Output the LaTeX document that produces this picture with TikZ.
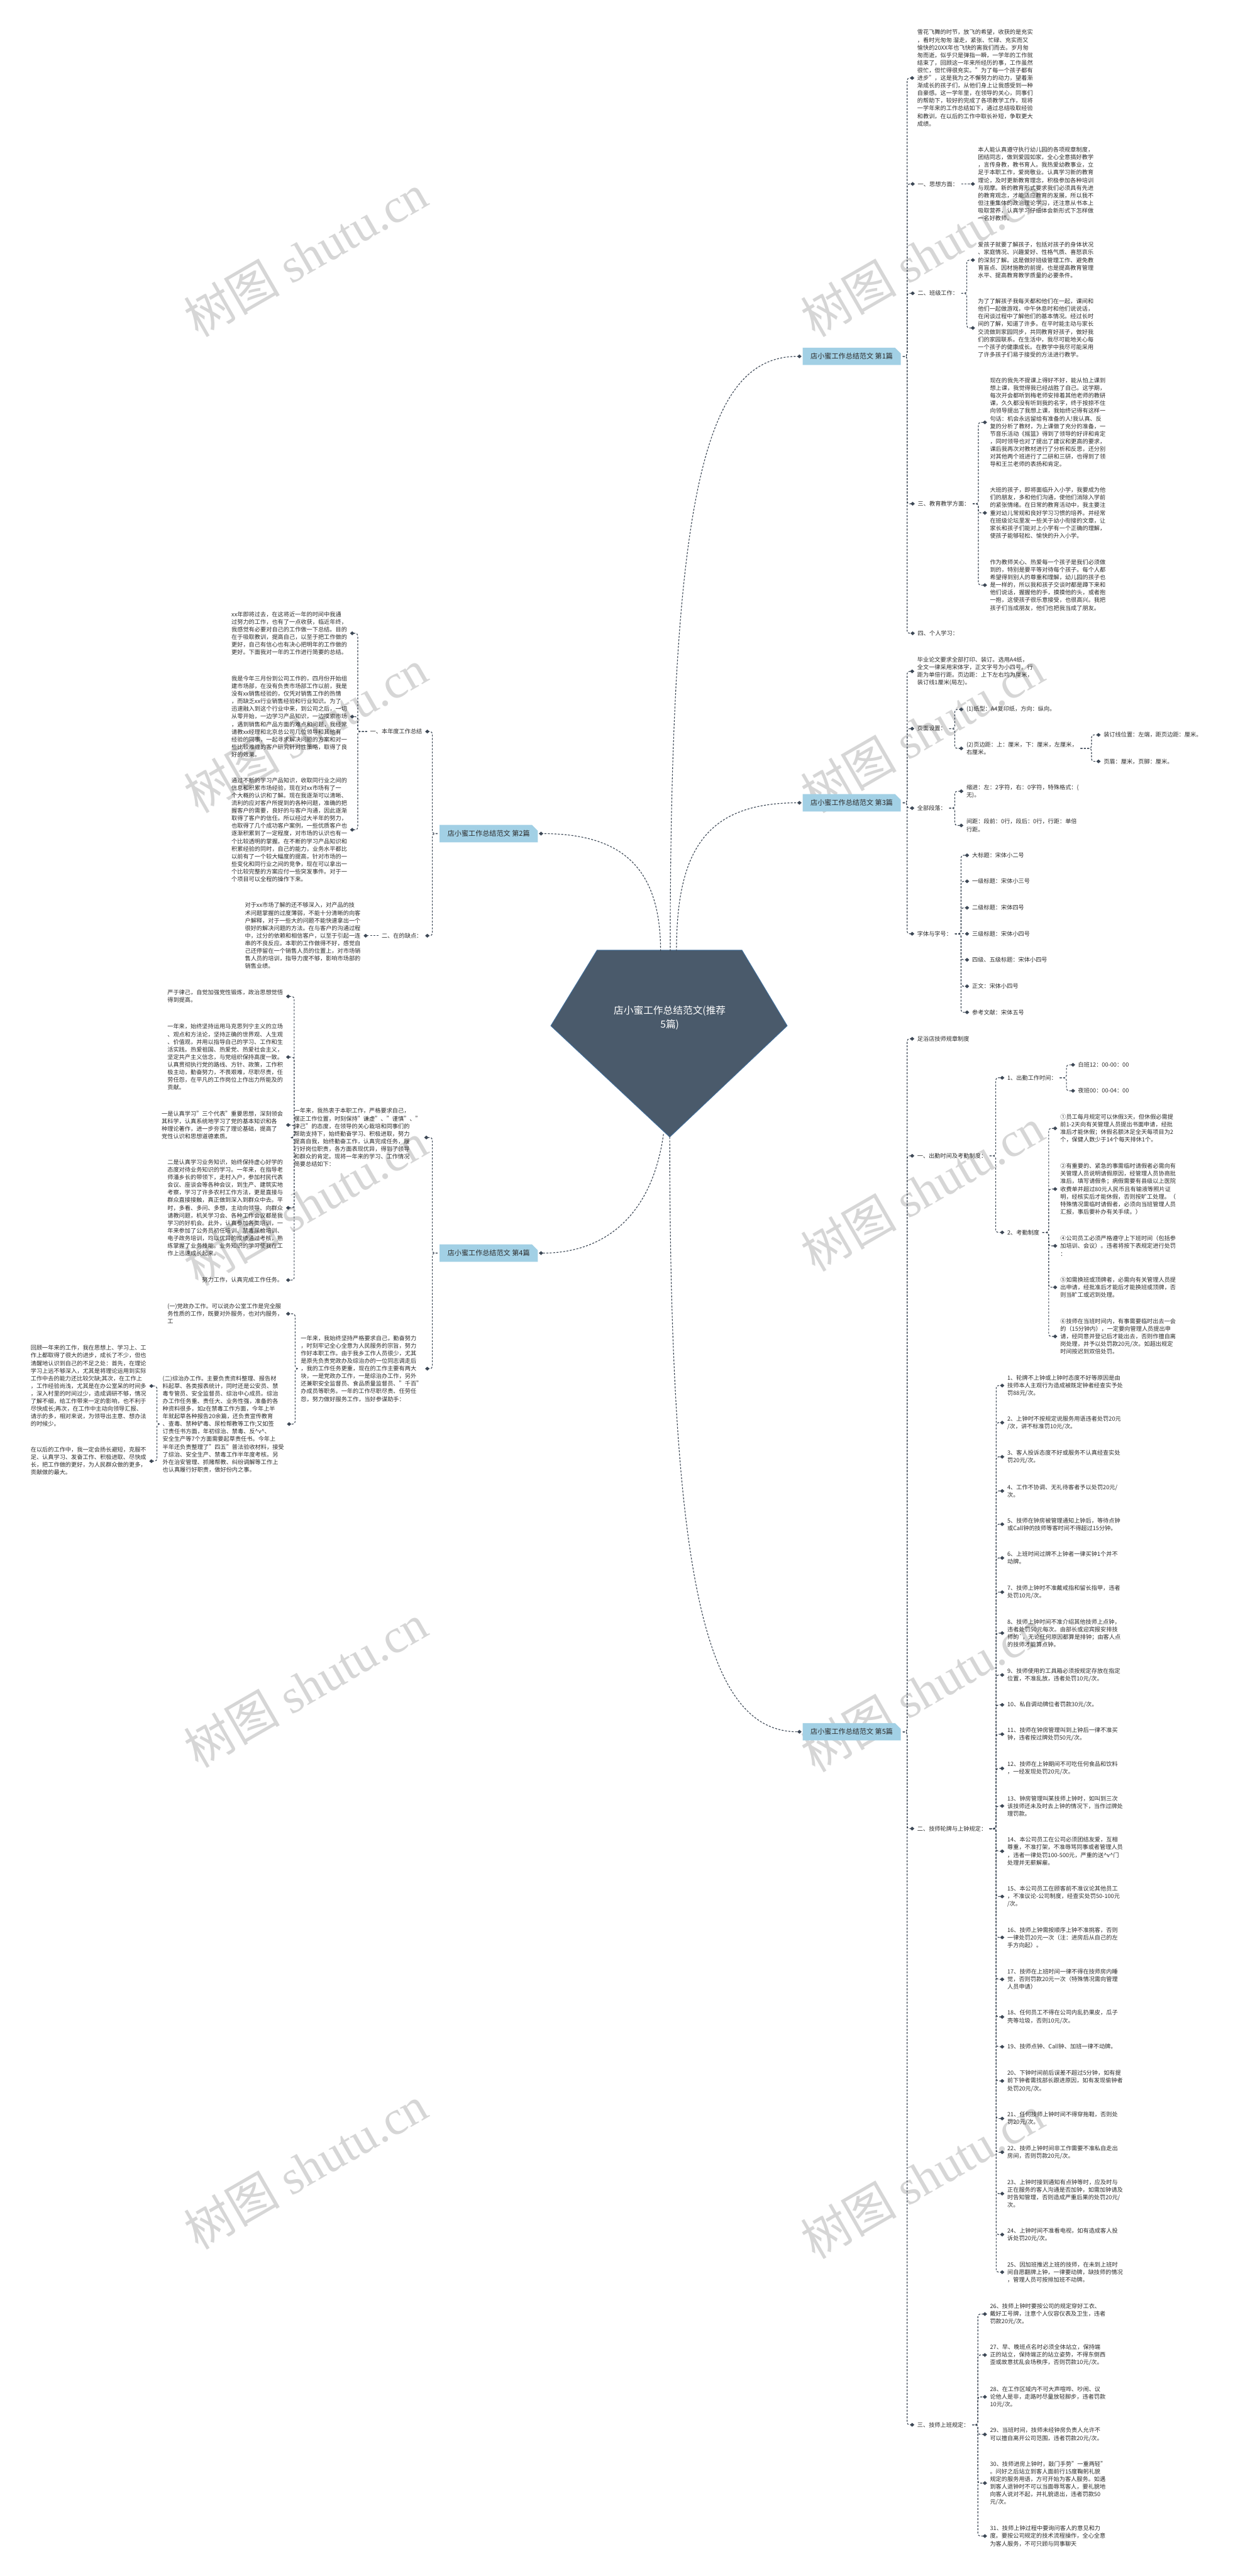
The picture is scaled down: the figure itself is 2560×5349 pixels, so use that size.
\documentclass[tikz,border=0pt]{standalone}
\usepackage{fontspec}
\setmainfont{Noto Sans CJK SC}
\newfontfamily\wmfont{Liberation Serif}
\usetikzlibrary{arrows.meta,shapes.misc}

\definecolor{linkc}{HTML}{3D4856}
\definecolor{txtc}{HTML}{2B2B2B}
\definecolor{boxc}{HTML}{A2D0E5}
\definecolor{pentc}{HTML}{4A5A6B}
\definecolor{pentedge}{HTML}{3F6E9C}
\definecolor{wmc}{HTML}{D6D6D6}

\tikzset{
  note/.style={font=\fontsize{12}{15.8}\selectfont, text=txtc, align=left, inner sep=0pt},
  topic/.style={chamfered rectangle, chamfered rectangle corners=north east,
    chamfered rectangle xsep=6pt, chamfered rectangle ysep=6pt, fill=boxc,
    text=txtc, inner sep=0pt, minimum width=204pt, minimum height=36pt,
    font=\fontsize{14.5}{16}\selectfont},
  link/.style={draw=linkc, line width=1.5pt, dash pattern=on 4pt off 3pt,
    rounded corners=5pt, -{Diamond[length=9pt,width=8pt]}},
  wmark/.style={text=wmc, rotate=30, inner sep=0pt, font=\fontsize{100}{100}\selectfont},
}

\begin{document}
\begin{tikzpicture}[x=1pt,y=-1pt]
\useasboundingbox (0,0) rectangle (2560,5349);
\fill[white] (0,0) rectangle (2560,5349);

% watermarks
\node[wmark] (w1) at (635,530) {树图 {\wmfont shutu.cn}};
\node[wmark] (w2) at (1916,530) {树图 {\wmfont shutu.cn}};
\node[wmark] (w3) at (635,1518) {树图 {\wmfont shutu.cn}};
\node[wmark] (w4) at (1916,1518) {树图 {\wmfont shutu.cn}};
\node[wmark] (w5) at (635,2500) {树图 {\wmfont shutu.cn}};
\node[wmark] (w6) at (1916,2470) {树图 {\wmfont shutu.cn}};
\node[wmark] (w7) at (635,3500) {树图 {\wmfont shutu.cn}};
\node[wmark] (w8) at (1916,3510) {树图 {\wmfont shutu.cn}};
\node[wmark] (w9) at (635,4500) {树图 {\wmfont shutu.cn}};
\node[wmark] (w10) at (1916,4520) {树图 {\wmfont shutu.cn}};
\node[wmark] (w11) at (635,5490) {树图 {\wmfont shutu.cn}};
\node[wmark] (w12) at (1916,5500) {树图 {\wmfont shutu.cn}};

% centre
\filldraw[fill=pentc, draw=pentedge, line width=1.2pt] (1240,1973) -- (1541,1973) -- (1635,2130) -- (1391,2361) -- (1144,2130) -- cycle;
\node[font=\fontsize{20.5}{29}\selectfont, text=white, align=center] (root) at (1391,2113) {店小蜜工作总结范文(推荐\\5篇)};
\coordinate (rtA) at (1372,1975);
\coordinate (rtB) at (1392,1975);
\coordinate (rtC) at (1405,1975);
\coordinate (rbA) at (1378,2355);
\coordinate (rbB) at (1391,2361);

% trunks
\coordinate (tR) at (1884,0);
\coordinate (tL) at (898,0);
\coordinate (t1c) at (2008,0);
\coordinate (t1d) at (2032,0);
\coordinate (t3b) at (1983,0);
\coordinate (t3b2) at (2267,0);
\coordinate (t3c) at (1983,0);
\coordinate (t3d) at (1996,0);
\coordinate (t5b) at (2068,0);
\coordinate (t5b1) at (2215,0);
\coordinate (t5b2) at (2178,0);
\coordinate (t5c) at (2069,0);
\coordinate (t5d) at (2031,0);
\coordinate (t2a) at (743,0);
\coordinate (t4a) at (611,0);
\coordinate (t4b) at (613,0);
\coordinate (t4b2) at (326,0);

% ---- 第1篇
\node[topic] (b1) at (1769,740) {店小蜜工作总结范文 第1篇};
\node[note, anchor=west] (s1a) at (1905,162) {雪花飞舞的时节，放飞的希望，收获的是充实\\，看时光匆匆 溜走，紧张、忙碌、充实而又\\愉快的20XX年也飞快的离我们而去。岁月匆\\匆而逝，似乎只是弹指一瞬，一学年的工作就\\结束了，回顾这一年来所经历的事，工作虽然\\很忙，但忙得很充实。"为了每一个孩子都有\\进步"，这是我为之不懈努力的动力，望着渐\\渐成长的孩子们，从他们身上让我感受到一种\\自豪感。这一学年里，在领导的关心，同事们\\的帮助下，较好的完成了各项教学工作，现将\\一学年来的工作总结如下，通过总结吸取经验\\和教训，在以后的工作中取长补短，争取更大\\成绩。};
\node[note, anchor=west] (s1b) at (1906,382) {一、思想方面：};
\node[note, anchor=west] (s1b1) at (2031,382) {本人能认真遵守执行幼儿园的各项规章制度，\\团结同志，做到爱园如家，全心全意搞好教学\\，言传身教，教书育人。我热爱幼教事业，立\\足于本职工作，爱岗敬业。认真学习新的教育\\理论，及时更新教育理念，积极参加各种培训\\与观摩。新的教育形式要求我们必须具有先进\\的教育观念，才能适应教育的发展，所以我不\\但注重集体的政治理论学习，还注意从书本上\\吸取营养，认真学习仔细体会新形式下怎样做\\一名好教师。};
\node[note, anchor=west] (s1c) at (1906,609) {二、班级工作：};
\node[note, anchor=west] (s1c1) at (2031,540) {爱孩子就要了解孩子，包括对孩子的身体状况\\、家庭情况、兴趣爱好、性格气质、喜怒哀乐\\的深刻了解。这是做好班级管理工作、避免教\\育盲点、因材施教的前提，也是提高教育管理\\水平、提高教育教学质量的必要条件。};
\node[note, anchor=west] (s1c2) at (2031,681) {为了了解孩子我每天都和他们在一起，课间和\\他们一起做游戏，中午休息时和他们说说话，\\在闲谈过程中了解他们的基本情况。经过长时\\间的了解，知道了许多。在平时能主动与家长\\交流做到家园同步，共同教育好孩子，做好我\\们的家园联系。在生活中，我尽可能地关心每\\一个孩子的健康成长。在教学中我尽可能采用\\了许多孩子们易于接受的方法进行教学。};
\node[note, anchor=west] (s1d) at (1906,1046) {三、教育教学方面：};
\node[note, anchor=west] (s1d1) at (2056,877) {现在的我先不提课上得好不好，能从怕上课到\\想上课，我觉得我已经战胜了自己。这学期，\\每次开会都听到梅老师安排着其他老师的教研\\课，久久都没有听到我的名字，终于按捺不住\\向领导提出了我想上课，我始终记得有这样一\\句话：机会永远留给有准备的人!我认真、反\\复的分析了教材，为上课做了充分的准备，一\\节音乐活动《摇篮》得到了领导的好评和肯定\\，同时领导也对了提出了建议和更高的要求，\\课后我再次对教材进行了分析和反思，还分别\\对其他两个班进行了二研和三研，也得到了领\\导和王兰老师的表扬和肯定。};
\node[note, anchor=west] (s1d2) at (2056,1065) {大班的孩子，即将面临升入小学，我要成为他\\们的朋友，多和他们沟通，使他们消除入学前\\的紧张情绪。在日常的教育活动中，我主要注\\重对幼儿常规和良好学习习惯的培养。并经常\\在班级论坛里发一些关于幼小衔接的文章，让\\家长和孩子们能对上小学有一个正确的理解，\\使孩子能够轻松、愉快的升入小学。};
\node[note, anchor=west] (s1d3) at (2056,1215) {作为教师关心、热爱每一个孩子是我们必须做\\到的，特别是要平等对待每个孩子。每个人都\\希望得到别人的尊重和理解，幼儿园的孩子也\\是一样的，所以我和孩子交谈时都是蹲下来和\\他们说话，握握他的手，摸摸他的头，或者抱\\一抱，这使孩子很乐意接受，也很高兴。我把\\孩子们当成朋友，他们也把我当成了朋友。};
\node[note, anchor=west] (s1e) at (1906,1315) {四、个人学习：};

% ---- 第3篇
\node[topic] (b3) at (1769,1667) {店小蜜工作总结范文 第3篇};
\node[note, anchor=west] (s3a) at (1905,1394) {毕业论文要求全部打印、装订。选用A4纸，\\全文一律采用宋体字，正文字号为小四号。行\\距为单倍行距。页边距：上下左右均为厘米，\\装订线1厘米(局左)。};
\node[note, anchor=west] (s3b) at (1905,1513) {页面设置：};
\node[note, anchor=west] (s3b1) at (2007,1473) {(1)纸型：A4复印纸，方向：纵向。};
\node[note, anchor=west] (s3b2) at (2007,1554) {(2)页边距：上：厘米，下：厘米，左厘米，\\右厘米。};
\node[note, anchor=west] (s3b2a) at (2292,1526) {装订线位置：左端，距页边距：厘米。};
\node[note, anchor=west] (s3b2b) at (2292,1581) {页眉：厘米，页脚：厘米。};
\node[note, anchor=west] (s3c) at (1905,1678) {全部段落：};
\node[note, anchor=west] (s3c1) at (2007,1643) {缩进：左：2字符，右：0字符，特殊格式：(\\无)。};
\node[note, anchor=west] (s3c2) at (2007,1714) {间距：段前：0行，段后：0行，行距：单倍\\行距。};
\node[note, anchor=west] (s3d) at (1905,1939) {字体与字号：};
\node[note, anchor=west] (s3d1) at (2019,1776) {大标题：宋体小二号};
\node[note, anchor=west] (s3d2) at (2019,1830) {一级标题：宋体小三号};
\node[note, anchor=west] (s3d3) at (2019,1885) {二级标题：宋体四号};
\node[note, anchor=west] (s3d4) at (2019,1939) {三级标题：宋体小四号};
\node[note, anchor=west] (s3d5) at (2019,1993) {四级、五级标题：宋体小四号};
\node[note, anchor=west] (s3d6) at (2019,2048) {正文：宋体小四号};
\node[note, anchor=west] (s3d7) at (2019,2102) {参考文献：宋体五号};

% ---- 第2篇
\node[topic] (b2) at (1015,1731) {店小蜜工作总结范文 第2篇};
\node[note, anchor=east] (s2a) at (877,1519) {一、本年度工作总结};
\node[note, anchor=east] (s2a1) at (721,1315) {xx年即将过去，在这将近一年的时间中我通\\过努力的工作，也有了一点收获，临近年终，\\我感觉有必要对自己的工作做一下总结。目的\\在于吸取教训，提高自己，以至于把工作做的\\更好，自己有信心也有决心把明年的工作做的\\更好。下面我对一年的工作进行简要的总结。};
\node[note, anchor=east] (s2a2) at (721,1488) {我是今年三月份到公司工作的，四月份开始组\\建市场部，在没有负责市场部工作以前，我是\\没有xx销售经验的，仅凭对销售工作的热情\\，而缺乏xx行业销售经验和行业知识。为了\\迅速融入到这个行业中来，到公司之后，一切\\从零开始，一边学习产品知识，一边摸索市场\\，遇到销售和产品方面的难点和问题，我经常\\请教xx经理和北京总公司几位领导和其他有\\经验的同事，一起寻求解决问题的方案和对一\\些比较难缠的客户研究针对性策略，取得了良\\好的效果。};
\node[note, anchor=east] (s2a3) at (721,1723) {通过不断的学习产品知识，收取同行业之间的\\信息和积累市场经验，现在对xx市场有了一\\个大概的认识和了解。现在我逐渐可以清晰、\\流利的应对客户所提到的各种问题，准确的把\\握客户的需要，良好的与客户沟通，因此逐渐\\取得了客户的信任。所以经过大半年的努力，\\也取得了几个成功客户案例，一些优质客户也\\逐渐积累到了一定程度，对市场的认识也有一\\个比较透明的掌握。在不断的学习产品知识和\\积累经验的同时，自己的能力，业务水平都比\\以前有了一个较大幅度的提高，针对市场的一\\些变化和同行业之间的竞争，现在可以拿出一\\个比较完整的方案应付一些突发事件。对于一\\个项目可以全程的操作下来。};
\node[note, anchor=east] (s2b) at (877,1943) {二、在的缺点：};
\node[note, anchor=east] (s2b1) at (749,1943) {对于xx市场了解的还不够深入，对产品的技\\术问题掌握的过度薄弱，不能十分清晰的向客\\户解释，对于一些大的问题不能快速拿出一个\\很好的解决问题的方法。在与客户的沟通过程\\中，过分的依赖和相信客户，以至于引起一连\\串的不良反应。本职的工作做得不好，感觉自\\己还停留在一个销售人员的位置上，对市场销\\售人员的培训，指导力度不够，影响市场部的\\销售业绩。};

% ---- 第4篇
\node[topic] (b4) at (1015,2602) {店小蜜工作总结范文 第4篇};
\node[note, anchor=east] (s4a) at (875,2362) {一年来，我热衷于本职工作，严格要求自己，\\摆正工作位置，时刻保持"谦虚"、"谨慎"、"\\律己"的态度，在领导的关心栽培和同事们的\\帮助支持下，始终勤奋学习、积极进取，努力\\提高自我，始终勤奋工作，认真完成任务，履\\行好岗位职责，各方面表现优异，得到了领导\\和群众的肯定。现将一年来的学习、工作情况\\简要总结如下：};
\node[note, anchor=east] (s4a1) at (588,2069) {严于律己，自觉加强党性锻炼，政治思想觉悟\\得到提高。};
\node[note, anchor=east] (s4a2) at (588,2195) {一年来，始终坚持运用马克思列宁主义的立场\\、观点和方法论，坚持正确的世界观、人生观\\、价值观，并用以指导自己的学习、工作和生\\活实践。热爱祖国、热爱党、热爱社会主义，\\坚定共产主义信念，与党组织保持高度一致。\\认真贯彻执行党的路线、方针、政策，工作积\\极主动，勤奋努力，不畏艰难，尽职尽责，任\\劳任怨，在平凡的工作岗位上作出力所能及的\\贡献。};
\node[note, anchor=east] (s4a3) at (588,2336) {一是认真学习"三个代表"重要思想，深刻领会\\其科学，认真系统地学习了党的基本知识和各\\种理论著作，进一步夯实了理论基础，提高了\\党性认识和思想道德素质。};
\node[note, anchor=east] (s4a4) at (588,2508) {二是认真学习业务知识，始终保持虚心好学的\\态度对待业务知识的学习。一年来，在指导老\\师潘乡长的带领下，走村入户，参加村民代表\\会议、座谈会等各种会议，到生产、建筑实地\\考察，学习了许多农村工作方法，更是直接与\\群众直接接触，真正做到深入到群众中去。平\\时，多看、多问、多想，主动向领导、向群众\\请教问题，机关学习会、各种工作会议都是我\\学习的好机会。此外，认真参加各类培训，一\\年来参加了公务员初任培训、禁毒尿检培训、\\电子政务培训，均以优异的成绩通过考核，熟\\练掌握了业务技能。业务知识的学习使我在工\\作上迅速成长起来。};
\node[note, anchor=east] (s4a5) at (588,2658) {努力工作，认真完成工作任务。};
\node[note, anchor=east] (s4b) at (877,2842) {一年来，我始终坚持严格要求自己，勤奋努力\\，时刻牢记全心全意为人民服务的宗旨，努力\\作好本职工作。由于我乡工作人员很少，尤其\\是原先负责党政办及综治办的一位同志调走后\\，我的工作任务更重，现在的工作主要有两大\\块，一是党政办工作，一是综治办工作，另外\\还兼职安全监督员、食品质量监督员、"千百"\\办成员等职务。一年的工作尽职尽责、任劳任\\怨，努力做好服务工作，当好参谋助手：};
\node[note, anchor=east] (s4b1) at (588,2728) {(一)党政办工作。可以说办公室工作是完全服\\务性质的工作，既要对外服务，也对内服务，\\工};
\node[note, anchor=east] (s4b2) at (590,2957) {(二)综治办工作。主要负责资料整理、报告材\\料起草、各类报表统计，同时还是公安员、禁\\毒专管员、安全监督员、综治中心成员。综治\\办工作任务重、责任大、业务性强，准备的各\\种资料很多，如z在禁毒工作方面，今年上半\\年就起草各种报告20余篇，还负责宣传教育\\、查毒、禁种铲毒、尿检帮教等工作;又如签\\订责任书方面，年初综治、禁毒、反\textasciicircum v\textasciicircum、\\安全生产等7个方面需要起草责任书。今年上\\半年还负责整理了"四五"普法验收材料，接受\\了综治、安全生产、禁毒工作半年度考核。另\\外在治安管理、抓赌帮教、纠纷调解等工作上\\也认真履行好职责，做好份内之事。};
\node[note, anchor=east] (s4b2a) at (304,2878) {回顾一年来的工作，我在思想上、学习上、工\\作上都取得了很大的进步，成长了不少，但也\\清醒地认识到自己的不足之处：首先，在理论\\学习上远不够深入，尤其是将理论运用到实际\\工作中去的能力还比较欠缺;其次，在工作上\\，工作经验尚浅，尤其是在办公室呆的时间多\\，深入村里的时间过少，造成调研不够，情况\\了解不细，给工作带来一定的影响，也不利于\\尽快成长;再次，在工作中主动向领导汇报、\\请示的多，相对来说，为领导出主意、想办法\\的时候少。};
\node[note, anchor=east] (s4b2b) at (304,3034) {在以后的工作中，我一定会扬长避短，克服不\\足、认真学习、发奋工作、积极进取、尽快成\\长，把工作做的更好，为人民群众做的更多，\\贡献做的最大。};

% ---- 第5篇
\node[topic] (b5) at (1769,3596) {店小蜜工作总结范文 第5篇};
\node[note, anchor=west] (s5a) at (1905,2157) {足浴店技师规章制度};
\node[note, anchor=west] (s5b) at (1905,2400) {一、出勤时间及考勤制度：};
\node[note, anchor=west] (s5b1) at (2092,2238) {1、出勤工作时间：};
\node[note, anchor=west] (s5b1a) at (2239,2211) {白班12：00-00：00};
\node[note, anchor=west] (s5b1b) at (2239,2265) {夜班00：00-04：00};
\node[note, anchor=west] (s5b2) at (2092,2559) {2、考勤制度};
\node[note, anchor=west] (s5b2a) at (2202,2343) {①员工每月规定可以休假3天，但休假必需提\\前1-2天向有关管理人员提出书面申请，经批\\准后才能休假；休假名额沐足全天每项目为2\\个，保健人数少于14个每天排休1个。};
\node[note, anchor=west] (s5b2b) at (2202,2469) {②有重要的、紧急的事需临时请假者必需向有\\关管理人员说明请假原因，经管理人员协商批\\准后，填写请假条；病假需要有县级以上医院\\收费单并超过80元人民币且有输液等照片证\\明，经核实后才能休假，否则按旷工处理。（\\特殊情况需临时请假者，必须向当班管理人员\\汇报，事后要补办有关手续。）};
\node[note, anchor=west] (s5b2c) at (2202,2587) {④公司员工必须严格遵守上下班时间（包括参\\加培训、会议）。违者将按下表规定进行处罚\\：};
\node[note, anchor=west] (s5b2d) at (2202,2673) {⑤如需换班或顶牌者，必需向有关管理人员提\\出申请，经批准后才能后才能换班或顶牌，否\\则当旷工或迟到处理。};
\node[note, anchor=west] (s5b2e) at (2202,2775) {⑥技师在当班时间内，有事需要临时出去一会\\的（15分钟内），一定要向管理人员提出申\\请，经同意并登记后才能出去，否则作擅自离\\岗处理，并予以处罚款20元/次。如超出规定\\时间按迟到双倍处罚。};
\node[note, anchor=west] (s5c) at (1905,3797) {二、技师轮牌与上钟规定：};
\node[note, anchor=west] (r1) at (2092,2877) {1、轮牌不上钟或上钟时态度不好等原因是由\\技师本人主观行为造成被既定钟者经查实予处\\罚88元/次。};
\node[note, anchor=west] (r2) at (2092,2954) {2、上钟时不按规定说服务用语违者处罚20元\\/次，讲不标准罚10元/次。};
\node[note, anchor=west] (r3) at (2092,3025) {3、客人投诉态度不好或服务不认真经查实处\\罚20元/次。};
\node[note, anchor=west] (r4) at (2092,3096) {4、工作不协调、无礼待客者予以处罚20元/\\次。};
\node[note, anchor=west] (r5) at (2092,3165) {5、技师在钟房被管理通知上钟后，等待点钟\\或Call钟的技师等客时间不得超过15分钟。};
\node[note, anchor=west] (r6) at (2092,3235) {6、上班时间过牌不上钟者一律买钟1个并不\\动牌。};
\node[note, anchor=west] (r7) at (2092,3306) {7、技师上钟时不准戴戒指和留长指甲，违者\\处罚10元/次。};
\node[note, anchor=west] (r8) at (2092,3391) {8、技师上钟时间不准介绍其他技师上点钟，\\违者处罚50元每次。由部长或迎宾报安排技\\师的\textasciigrave，无论任何原因都算是排钟；由客人点\\的技师才能算点钟。};
\node[note, anchor=west] (r9) at (2092,3478) {9、技师使用的工具箱必须按规定存放在指定\\位置，不准乱放，违者处罚10元/次。};
\node[note, anchor=west] (r10) at (2092,3540) {10、私自调动牌位者罚款30元/次。};
\node[note, anchor=west] (r11) at (2092,3601) {11、技师在钟房管理叫到上钟后一律不准买\\钟，违者按过牌处罚50元/次。};
\node[note, anchor=west] (r12) at (2092,3672) {12、技师在上钟期间不可吃任何食品和饮料\\，一经发现处罚20元/次。};
\node[note, anchor=west] (r13) at (2092,3750) {13、钟房管理叫某技师上钟时，如叫到三次\\该技师还未及时去上钟的情况下，当作过牌处\\理罚款。};
\node[note, anchor=west] (r14) at (2092,3844) {14、本公司员工在公司必须团结友爱，互相\\尊重，不准打架，不准辱骂同事或者管理人员\\，违者一律处罚100-500元，严重的送\textasciicircum v\textasciicircum 门\\处理并无薪解雇。};
\node[note, anchor=west] (r15) at (2092,3938) {15、本公司员工在顾客前不准议论其他员工\\，不准议论-公司制度，经查实处罚50-100元\\/次。};
\node[note, anchor=west] (r16) at (2092,4023) {16、技师上钟需按顺序上钟不准挑客，否则\\一律处罚20元一次（注：进房后从自己的左\\手方向起）。};
\node[note, anchor=west] (r17) at (2092,4110) {17、技师在上班时间一律不得在技师房内睡\\觉，否则罚款20元一次（特殊情况需向管理\\人员申请）};
\node[note, anchor=west] (r18) at (2092,4188) {18、任何员工不得在公司内乱扔果皮，瓜子\\壳等垃圾，否则10元/次。};
\node[note, anchor=west] (r19) at (2092,4250) {19、技师点钟、Call钟、加班一律不动牌。};
\node[note, anchor=west] (r20) at (2092,4321) {20、下钟时间前后误差不超过5分钟，如有提\\前下钟者需找部长跟进原因，如有发现偷钟者\\处罚20元/次。};
\node[note, anchor=west] (r21) at (2092,4399) {21、任何技师上钟时间不得穿拖鞋，否则处\\罚20元/次。};
\node[note, anchor=west] (r22) at (2092,4469) {22、技师上钟时间非工作需要不准私自走出\\房间，否则罚款20元/次。};
\node[note, anchor=west] (r23) at (2092,4555) {23、上钟时接到通知有点钟等时，应及时与\\正在服务的客人沟通是否加钟，如需加钟请及\\时告知管理，否则造成严重后果的处罚20元/\\次。};
\node[note, anchor=west] (r24) at (2092,4640) {24、上钟时间不准看电视，如有造成客人投\\诉处罚20元/次。};
\node[note, anchor=west] (r25) at (2092,4718) {25、因加班推迟上班的技师，在未到上班时\\间自愿翻牌上钟，一律要动牌，缺技师的情况\\，管理人员可按排加班不动牌。};
\node[note, anchor=west] (s5d) at (1905,5035) {三、技师上班规定：};
\node[note, anchor=west] (r26) at (2056,4805) {26、技师上钟时要按公司的规定穿好工衣、\\戴好工号牌，注意个人仪容仪表及卫生，违者\\罚款20元/次。};
\node[note, anchor=west] (r27) at (2056,4890) {27、早、晚班点名时必须全体站立，保持端\\正的站立，保持端正的站立姿势，不得东倒西\\歪或故意扰乱会场秩序，否则罚款10元/次。};
\node[note, anchor=west] (r28) at (2056,4977) {28、在工作区域内不可大声喧哗、吵闹、议\\论他人是非，走路时尽量放轻脚步，违者罚款\\10元/次。};
\node[note, anchor=west] (r29) at (2056,5055) {29、当班时间，技师未经钟房负责人允许不\\可以擅自离开公司范围，违者罚款20元/次。};
\node[note, anchor=west] (r30) at (2056,5156) {30、技师进房上钟时，敲门手势"一重两轻"\\。问好之后站立到客人面前行15度鞠躬礼貌\\规定的服务用语，方可开始为客人服务。如遇\\到客人退钟时不可以当面辱骂客人，要礼貌地\\向客人说对不起，并礼貌退出，违者罚款50\\元/次。};
\node[note, anchor=west] (r31) at (2056,5266) {31、技师上钟过程中要询问客人的意见和力\\度。要按公司规定的技术流程操作，全心全意\\为客人服务，不可只顾与同事聊天};

% centre to topics
\draw[link] (rtB) .. controls (1392,1000) and (1470,740) .. ([xshift=-2pt]b1.west);
\draw[link] (rtC) .. controls (1405,1760) and (1470,1667) .. ([xshift=-2pt]b3.west);
\draw[link] (rtA) .. controls (1372,1800) and (1290,1731) .. ([xshift=2pt]b2.east);
\draw[link] (rbA) .. controls (1355,2520) and (1260,2602) .. ([xshift=2pt]b4.east);
\draw[link] (rbB) .. controls (1391,3300) and (1470,3596) .. ([xshift=-2pt]b5.west);

% 第1篇 links
\draw[link] ([xshift=4pt]b1.east) -- (b1.east -| tR) |- ([xshift=-6pt]s1a.west);
\draw[link] ([xshift=4pt]b1.east) -- (b1.east -| tR) |- ([xshift=-6pt]s1b.west);
\draw[link] ([xshift=4pt]b1.east) -- (b1.east -| tR) |- ([xshift=-6pt]s1c.west);
\draw[link] ([xshift=4pt]b1.east) -- (b1.east -| tR) |- ([xshift=-6pt]s1d.west);
\draw[link] ([xshift=4pt]b1.east) -- (b1.east -| tR) |- ([xshift=-6pt]s1e.west);
\draw[link] ([xshift=6pt]s1b.east) -- ([xshift=-6pt]s1b1.west);
\draw[link] ([xshift=6pt]s1c.east) -- (s1c.east -| t1c) |- ([xshift=-6pt]s1c1.west);
\draw[link] ([xshift=6pt]s1c.east) -- (s1c.east -| t1c) |- ([xshift=-6pt]s1c2.west);
\draw[link] ([xshift=6pt]s1d.east) -- (s1d.east -| t1d) |- ([xshift=-6pt]s1d1.west);
\draw[link] ([xshift=6pt]s1d.east) -- (s1d.east -| t1d) |- ([xshift=-6pt]s1d2.west);
\draw[link] ([xshift=6pt]s1d.east) -- (s1d.east -| t1d) |- ([xshift=-6pt]s1d3.west);

% 第3篇 links
\draw[link] ([xshift=4pt]b3.east) -- (b3.east -| tR) |- ([xshift=-6pt]s3a.west);
\draw[link] ([xshift=4pt]b3.east) -- (b3.east -| tR) |- ([xshift=-6pt]s3b.west);
\draw[link] ([xshift=4pt]b3.east) -- (b3.east -| tR) |- ([xshift=-6pt]s3c.west);
\draw[link] ([xshift=4pt]b3.east) -- (b3.east -| tR) |- ([xshift=-6pt]s3d.west);
\draw[link] ([xshift=6pt]s3b.east) -- (s3b.east -| t3b) |- ([xshift=-6pt]s3b1.west);
\draw[link] ([xshift=6pt]s3b.east) -- (s3b.east -| t3b) |- ([xshift=-6pt]s3b2.west);
\draw[link] ([xshift=6pt]s3b2.east) -- (s3b2.east -| t3b2) |- ([xshift=-6pt]s3b2a.west);
\draw[link] ([xshift=6pt]s3b2.east) -- (s3b2.east -| t3b2) |- ([xshift=-6pt]s3b2b.west);
\draw[link] ([xshift=6pt]s3c.east) -- (s3c.east -| t3c) |- ([xshift=-6pt]s3c1.west);
\draw[link] ([xshift=6pt]s3c.east) -- (s3c.east -| t3c) |- ([xshift=-6pt]s3c2.west);
\draw[link] ([xshift=6pt]s3d.east) -- (s3d.east -| t3d) |- ([xshift=-6pt]s3d1.west);
\draw[link] ([xshift=6pt]s3d.east) -- (s3d.east -| t3d) |- ([xshift=-6pt]s3d2.west);
\draw[link] ([xshift=6pt]s3d.east) -- (s3d.east -| t3d) |- ([xshift=-6pt]s3d3.west);
\draw[link] ([xshift=6pt]s3d.east) -- ([xshift=-6pt]s3d4.west);
\draw[link] ([xshift=6pt]s3d.east) -- (s3d.east -| t3d) |- ([xshift=-6pt]s3d5.west);
\draw[link] ([xshift=6pt]s3d.east) -- (s3d.east -| t3d) |- ([xshift=-6pt]s3d6.west);
\draw[link] ([xshift=6pt]s3d.east) -- (s3d.east -| t3d) |- ([xshift=-6pt]s3d7.west);

% 第2篇 links
\draw[link] ([xshift=-4pt]b2.west) -- (b2.west -| tL) |- ([xshift=6pt]s2a.east);
\draw[link] ([xshift=-4pt]b2.west) -- (b2.west -| tL) |- ([xshift=6pt]s2b.east);
\draw[link] ([xshift=-6pt]s2a.west) -- (s2a.west -| t2a) |- ([xshift=6pt]s2a1.east);
\draw[link] ([xshift=-6pt]s2a.west) -- (s2a.west -| t2a) |- ([xshift=6pt]s2a2.east);
\draw[link] ([xshift=-6pt]s2a.west) -- (s2a.west -| t2a) |- ([xshift=6pt]s2a3.east);
\draw[link] ([xshift=-6pt]s2b.west) -- ([xshift=6pt]s2b1.east);

% 第4篇 links
\draw[link] ([xshift=-4pt]b4.west) -- (b4.west -| tL) |- ([xshift=6pt]s4a.east);
\draw[link] ([xshift=-4pt]b4.west) -- (b4.west -| tL) |- ([xshift=6pt]s4b.east);
\draw[link] ([xshift=-6pt]s4a.west) -- (s4a.west -| t4a) |- ([xshift=6pt]s4a1.east);
\draw[link] ([xshift=-6pt]s4a.west) -- (s4a.west -| t4a) |- ([xshift=6pt]s4a2.east);
\draw[link] ([xshift=-6pt]s4a.west) -- (s4a.west -| t4a) |- ([xshift=6pt]s4a3.east);
\draw[link] ([xshift=-6pt]s4a.west) -- (s4a.west -| t4a) |- ([xshift=6pt]s4a4.east);
\draw[link] ([xshift=-6pt]s4a.west) -- (s4a.west -| t4a) |- ([xshift=6pt]s4a5.east);
\draw[link] ([xshift=-6pt]s4b.west) -- (s4b.west -| t4b) |- ([xshift=6pt]s4b1.east);
\draw[link] ([xshift=-6pt]s4b.west) -- (s4b.west -| t4b) |- ([xshift=6pt]s4b2.east);
\draw[link] ([xshift=-6pt]s4b2.west) -- (s4b2.west -| t4b2) |- ([xshift=6pt]s4b2a.east);
\draw[link] ([xshift=-6pt]s4b2.west) -- (s4b2.west -| t4b2) |- ([xshift=6pt]s4b2b.east);

% 第5篇 links
\draw[link] ([xshift=4pt]b5.east) -- (b5.east -| tR) |- ([xshift=-6pt]s5a.west);
\draw[link] ([xshift=4pt]b5.east) -- (b5.east -| tR) |- ([xshift=-6pt]s5b.west);
\draw[link] ([xshift=4pt]b5.east) -- (b5.east -| tR) |- ([xshift=-6pt]s5c.west);
\draw[link] ([xshift=4pt]b5.east) -- (b5.east -| tR) |- ([xshift=-6pt]s5d.west);
\draw[link] ([xshift=6pt]s5b.east) -- (s5b.east -| t5b) |- ([xshift=-6pt]s5b1.west);
\draw[link] ([xshift=6pt]s5b.east) -- (s5b.east -| t5b) |- ([xshift=-6pt]s5b2.west);
\draw[link] ([xshift=6pt]s5b1.east) -- (s5b1.east -| t5b1) |- ([xshift=-6pt]s5b1a.west);
\draw[link] ([xshift=6pt]s5b1.east) -- (s5b1.east -| t5b1) |- ([xshift=-6pt]s5b1b.west);
\draw[link] ([xshift=6pt]s5b2.east) -- (s5b2.east -| t5b2) |- ([xshift=-6pt]s5b2a.west);
\draw[link] ([xshift=6pt]s5b2.east) -- (s5b2.east -| t5b2) |- ([xshift=-6pt]s5b2b.west);
\draw[link] ([xshift=6pt]s5b2.east) -- (s5b2.east -| t5b2) |- ([xshift=-6pt]s5b2c.west);
\draw[link] ([xshift=6pt]s5b2.east) -- (s5b2.east -| t5b2) |- ([xshift=-6pt]s5b2d.west);
\draw[link] ([xshift=6pt]s5b2.east) -- (s5b2.east -| t5b2) |- ([xshift=-6pt]s5b2e.west);
\draw[link] ([xshift=6pt]s5c.east) -- (s5c.east -| t5c) |- ([xshift=-6pt]r1.west);
\draw[link] ([xshift=6pt]s5c.east) -- (s5c.east -| t5c) |- ([xshift=-6pt]r2.west);
\draw[link] ([xshift=6pt]s5c.east) -- (s5c.east -| t5c) |- ([xshift=-6pt]r3.west);
\draw[link] ([xshift=6pt]s5c.east) -- (s5c.east -| t5c) |- ([xshift=-6pt]r4.west);
\draw[link] ([xshift=6pt]s5c.east) -- (s5c.east -| t5c) |- ([xshift=-6pt]r5.west);
\draw[link] ([xshift=6pt]s5c.east) -- (s5c.east -| t5c) |- ([xshift=-6pt]r6.west);
\draw[link] ([xshift=6pt]s5c.east) -- (s5c.east -| t5c) |- ([xshift=-6pt]r7.west);
\draw[link] ([xshift=6pt]s5c.east) -- (s5c.east -| t5c) |- ([xshift=-6pt]r8.west);
\draw[link] ([xshift=6pt]s5c.east) -- (s5c.east -| t5c) |- ([xshift=-6pt]r9.west);
\draw[link] ([xshift=6pt]s5c.east) -- (s5c.east -| t5c) |- ([xshift=-6pt]r10.west);
\draw[link] ([xshift=6pt]s5c.east) -- (s5c.east -| t5c) |- ([xshift=-6pt]r11.west);
\draw[link] ([xshift=6pt]s5c.east) -- (s5c.east -| t5c) |- ([xshift=-6pt]r12.west);
\draw[link] ([xshift=6pt]s5c.east) -- (s5c.east -| t5c) |- ([xshift=-6pt]r13.west);
\draw[link] ([xshift=6pt]s5c.east) -- (s5c.east -| t5c) |- ([xshift=-6pt]r14.west);
\draw[link] ([xshift=6pt]s5c.east) -- (s5c.east -| t5c) |- ([xshift=-6pt]r15.west);
\draw[link] ([xshift=6pt]s5c.east) -- (s5c.east -| t5c) |- ([xshift=-6pt]r16.west);
\draw[link] ([xshift=6pt]s5c.east) -- (s5c.east -| t5c) |- ([xshift=-6pt]r17.west);
\draw[link] ([xshift=6pt]s5c.east) -- (s5c.east -| t5c) |- ([xshift=-6pt]r18.west);
\draw[link] ([xshift=6pt]s5c.east) -- (s5c.east -| t5c) |- ([xshift=-6pt]r19.west);
\draw[link] ([xshift=6pt]s5c.east) -- (s5c.east -| t5c) |- ([xshift=-6pt]r20.west);
\draw[link] ([xshift=6pt]s5c.east) -- (s5c.east -| t5c) |- ([xshift=-6pt]r21.west);
\draw[link] ([xshift=6pt]s5c.east) -- (s5c.east -| t5c) |- ([xshift=-6pt]r22.west);
\draw[link] ([xshift=6pt]s5c.east) -- (s5c.east -| t5c) |- ([xshift=-6pt]r23.west);
\draw[link] ([xshift=6pt]s5c.east) -- (s5c.east -| t5c) |- ([xshift=-6pt]r24.west);
\draw[link] ([xshift=6pt]s5c.east) -- (s5c.east -| t5c) |- ([xshift=-6pt]r25.west);
\draw[link] ([xshift=6pt]s5d.east) -- (s5d.east -| t5d) |- ([xshift=-6pt]r26.west);
\draw[link] ([xshift=6pt]s5d.east) -- (s5d.east -| t5d) |- ([xshift=-6pt]r27.west);
\draw[link] ([xshift=6pt]s5d.east) -- (s5d.east -| t5d) |- ([xshift=-6pt]r28.west);
\draw[link] ([xshift=6pt]s5d.east) -- (s5d.east -| t5d) |- ([xshift=-6pt]r29.west);
\draw[link] ([xshift=6pt]s5d.east) -- (s5d.east -| t5d) |- ([xshift=-6pt]r30.west);
\draw[link] ([xshift=6pt]s5d.east) -- (s5d.east -| t5d) |- ([xshift=-6pt]r31.west);
\end{tikzpicture}
\end{document}
